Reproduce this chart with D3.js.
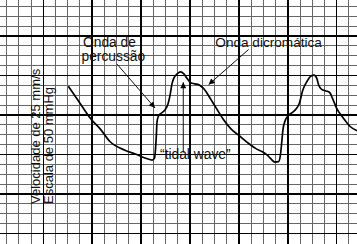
<!DOCTYPE html>
<html>
<head>
<meta charset="utf-8">
<script src="https://cdn.jsdelivr.net/npm/d3@7"></script>
<style>
  body { margin: 0; background: #fff; }
  svg text { font-family: "Liberation Sans", Arial, sans-serif; fill: #111; }
</style>
</head>
<body>
<svg id="chart" width="357" height="244"></svg>
<script>
// time in seconds (25 mm/s paper), pressure in mmHg
const time = [
  0.082, 0.120, 0.158, 0.186, 0.218, 0.267, 0.306, 0.338, 0.356, 0.364,
  0.367, 0.370, 0.372, 0.377, 0.385, 0.398, 0.408, 0.415, 0.421, 0.429,
  0.439, 0.449, 0.460, 0.470, 0.482, 0.496, 0.513, 0.526, 0.541, 0.556,
  0.572, 0.590, 0.614, 0.639, 0.672, 0.696, 0.717, 0.732, 0.745, 0.758,
  0.770, 0.776, 0.780, 0.784, 0.791, 0.802, 0.814, 0.827, 0.838, 0.849,
  0.862, 0.876, 0.886, 0.895, 0.901, 0.911, 0.925, 0.937, 0.946, 0.960,
  0.982, 1.004, 1.027
];
const pressure = [
  37.3, 33.0, 28.8, 26.5, 23.3, 21.1, 20.0, 19.0, 18.6, 19.1,
  21.2, 25.0, 28.2, 29.8, 30.4, 31.3, 32.8, 35.1, 37.9, 39.6,
  40.5, 40.9, 40.4, 39.3, 38.2, 37.9, 37.5, 36.6, 34.9, 33.0,
  31.0, 28.8, 26.5, 24.9, 22.8, 21.5, 20.7, 19.9, 18.9, 18.1,
  18.2, 19.9, 22.9, 26.2, 28.5, 29.9, 30.6, 31.5, 33.0, 36.3,
  38.4, 39.9, 40.1, 39.3, 37.6, 36.5, 36.1, 35.7, 34.3, 31.7,
  29.2, 27.1, 26.0
];
const axisLabels = ['Velocidade de 25 mm/s', 'Escala de 50 mmHg'];
const percussionLabel = ['Onda de', 'percussão'];
const dicroticLabel = 'Onda dicromática';
const tidalLabel = '\u201ctidal wave\u201d';

const width = 357;
const height = 244;
const CELL_T = 0.04;  // 1 mm at 25 mm/s
const CELL_P = 2.5;   // mmHg per small square

const svg = d3.select('#chart');

const x = d3.scaleLinear().domain([0, 1]).range([43.3, 348.9]);
const y = d3.scaleLinear().domain([0, 50]).range([233.6, 36]);

// grid: small squares, heavy line every 4
const vLines = d3.range(-3, 26).map(k => ({ v: k * CELL_T, heavy: k % 4 === 0 }));
const hLines = d3.range(0, 24).map(k => ({ v: k * CELL_P, heavy: k % 4 === 0 }));

const grid = svg.append('g').attr('shape-rendering', 'crispEdges');
const drawGrid = (heavy) => {
  grid.selectAll(null)
    .data(vLines.filter(d => d.heavy === heavy))
    .join('line')
    .attr('x1', d => x(d.v)).attr('x2', d => x(d.v))
    .attr('y1', 0).attr('y2', height)
    .attr('stroke', heavy ? '#000' : '#666')
    .attr('stroke-width', heavy ? 1.6 : 1);
  grid.selectAll(null)
    .data(hLines.filter(d => d.heavy === heavy))
    .join('line')
    .attr('x1', 0).attr('x2', width)
    .attr('y1', d => y(d.v)).attr('y2', d => y(d.v))
    .attr('stroke', heavy ? '#000' : '#666')
    .attr('stroke-width', heavy ? 1.6 : 1);
};
drawGrid(false);
drawGrid(true);

// pressure trace
const line = d3.line()
  .x(d => x(d[0]))
  .y(d => y(d[1]))
  .curve(d3.curveMonotoneX);

svg.append('path')
  .datum(d3.zip(time, pressure))
  .attr('d', line)
  .attr('fill', 'none')
  .attr('stroke', '#000')
  .attr('stroke-width', 1.7)
  .attr('stroke-linejoin', 'round');

// arrow marker
svg.append('defs').append('marker')
  .attr('id', 'head')
  .attr('viewBox', '0 0 10 10')
  .attr('refX', 10).attr('refY', 5)
  .attr('markerUnits', 'userSpaceOnUse')
  .attr('markerWidth', 8).attr('markerHeight', 6)
  .attr('orient', 'auto')
  .append('path')
  .attr('d', 'M0,0 L10,5 L0,10 Z')
  .attr('fill', '#000');

const arrow = (t1, p1, t2, p2) => svg.append('line')
  .attr('x1', x(t1)).attr('y1', y(p1))
  .attr('x2', x(t2)).attr('y2', y(p2))
  .attr('stroke', '#111')
  .attr('stroke-width', 1)
  .attr('marker-end', 'url(#head)');

arrow(0.241, 42.9, 0.3655, 31.8);   // percussion
arrow(0.672, 46.6, 0.541, 37.7);    // dicrotic
arrow(0.458, 20.5, 0.458, 38.3);    // tidal

// labels
const label = (t, p, txt, size) => svg.append('text')
  .attr('x', x(t)).attr('y', y(p))
  .attr('font-size', size)
  .text(txt);

label(0.130, 47.2, percussionLabel[0], 13.8);
label(0.125, 43.6, percussionLabel[1], 13.8);
label(0.563, 47.2, dicroticLabel, 13.6);
label(0.382, 18.95, tidalLabel, 13.8);

svg.selectAll('.axis-label')
  .data(axisLabels)
  .join('text')
  .attr('class', 'axis-label')
  .attr('font-size', 13)
  .attr('transform', (d, i) => `translate(${39.5 + i * 13},204) rotate(-90)`)
  .text(d => d);
</script>
</body>
</html>
